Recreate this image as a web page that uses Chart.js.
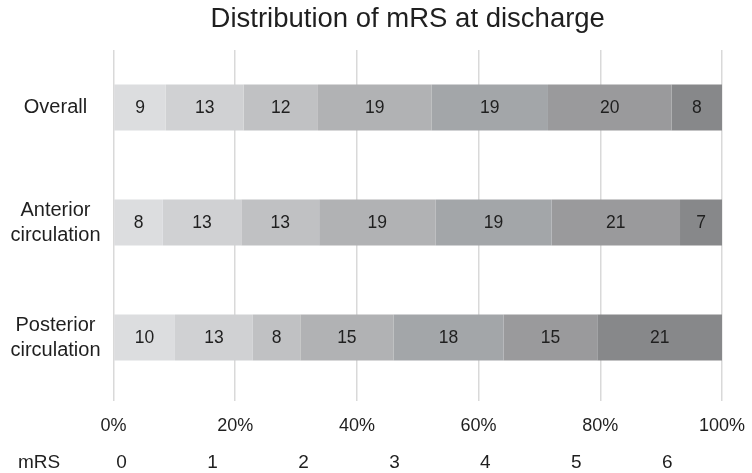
<!DOCTYPE html>
<html>
<head>
<meta charset="utf-8">
<script src="https://cdn.jsdelivr.net/npm/chart.js@4/dist/chart.umd.min.js"></script>
<style>
  html, body { margin: 0; padding: 0; background: #ffffff; }
  #wrap { width: 752px; height: 473px; position: relative; }
</style>
</head>
<body>
<div id="wrap"><canvas id="c" width="752" height="473"></canvas></div>
<script>
// ---- Data (percent of patients by mRS at discharge) ----
const titleText = "Distribution of mRS at discharge";
const categories = [["Overall"], ["Anterior", "circulation"], ["Posterior", "circulation"]];
const mrsLevels = ["0", "1", "2", "3", "4", "5", "6"];
const legendTitle = "mRS";
const mrs0 = [8.6, 8.1, 10.1];
const mrs1 = [12.8, 12.9, 12.8];
const mrs2 = [12.2, 12.8, 7.8];
const mrs3 = [18.7, 19.1, 15.3];
const mrs4 = [19.1, 19.1, 18.1];
const mrs5 = [20.3, 21.1, 15.4];
const mrs6 = [8.3, 6.9, 20.5];
const xTicks = [0, 20, 40, 60, 80, 100];

const seriesValues = [mrs0, mrs1, mrs2, mrs3, mrs4, mrs5, mrs6];
const colors = ["#dcdddf", "#d0d1d3", "#c0c1c3", "#b1b2b4", "#a3a6a9", "#9a9a9c", "#87888a"];
const FONT = "'Liberation Sans', Arial, Helvetica, sans-serif";
const TEXT = "#1f1f1f";

const datasets = seriesValues.map((vals, i) => ({
  label: mrsLevels[i],
  data: vals,
  backgroundColor: colors[i],
  borderWidth: 0,
  barPercentage: 0.4,
  categoryPercentage: 1.0
}));

const extrasPlugin = {
  id: 'extras',
  afterDatasetsDraw(chart) {
    const ctx = chart.ctx;
    ctx.save();
    // segment value labels
    ctx.font = "17.5px " + FONT;
    ctx.fillStyle = TEXT;
    ctx.textAlign = "center";
    ctx.textBaseline = "middle";
    chart.data.datasets.forEach((ds, di) => {
      const meta = chart.getDatasetMeta(di);
      meta.data.forEach((bar, j) => {
        const cx = (bar.x + bar.base) / 2;
        ctx.fillText(String(Math.round(ds.data[j])), cx, bar.y + 1);
      });
    });
    ctx.restore();
  },
  afterDraw(chart) {
    const ctx = chart.ctx;
    const area = chart.chartArea;
    ctx.save();
    // title
    ctx.font = "27.5px " + FONT;
    ctx.fillStyle = TEXT;
    ctx.textAlign = "center";
    ctx.textBaseline = "alphabetic";
    ctx.fillText(titleText, (area.left + area.right) / 2 - 10, 27);
    // mRS legend row
    ctx.font = "19px " + FONT;
    ctx.textBaseline = "middle";
    const y = 463;
    ctx.fillText(legendTitle, 39, y);
    const start = area.left + 8;
    const step = (area.right - area.left) * 0.1495;
    mrsLevels.forEach((lv, i) => {
      ctx.fillText(lv, start + step * i, y);
    });
    ctx.restore();
  }
};

new Chart(document.getElementById('c'), {
  type: 'bar',
  data: { labels: categories, datasets },
  options: {
    indexAxis: 'y',
    responsive: false,
    animation: false,
    layout: { padding: { top: 50, right: 30, left: 0, bottom: 0 } },
    plugins: {
      legend: { display: false },
      title: { display: false },
      tooltip: { enabled: false }
    },
    scales: {
      x: {
        stacked: true,
        min: 0,
        max: 100,
        afterBuildTicks(scale) { scale.ticks = xTicks.map(v => ({ value: v })); },
        afterFit(scale) { scale.height = 78; scale.paddingRight = 0; scale.paddingLeft = 0; },
        border: { display: false },
        grid: { color: "#d9d9d9", lineWidth: 1.5, drawTicks: true, tickLength: 6 },
        ticks: {
          padding: 14,
          color: TEXT,
          font: { family: FONT, size: 18 },
          callback: v => v + "%"
        }
      },
      y: {
        stacked: true,
        afterFit(scale) { scale.width = 113.5; },
        border: { display: false },
        grid: { display: false, drawTicks: false },
        ticks: {
          crossAlign: 'center',
          padding: 13,
          color: TEXT,
          font: { family: FONT, size: 20, lineHeight: 1.25 }
        }
      }
    }
  },
  plugins: [extrasPlugin]
});
</script>
</body>
</html>
